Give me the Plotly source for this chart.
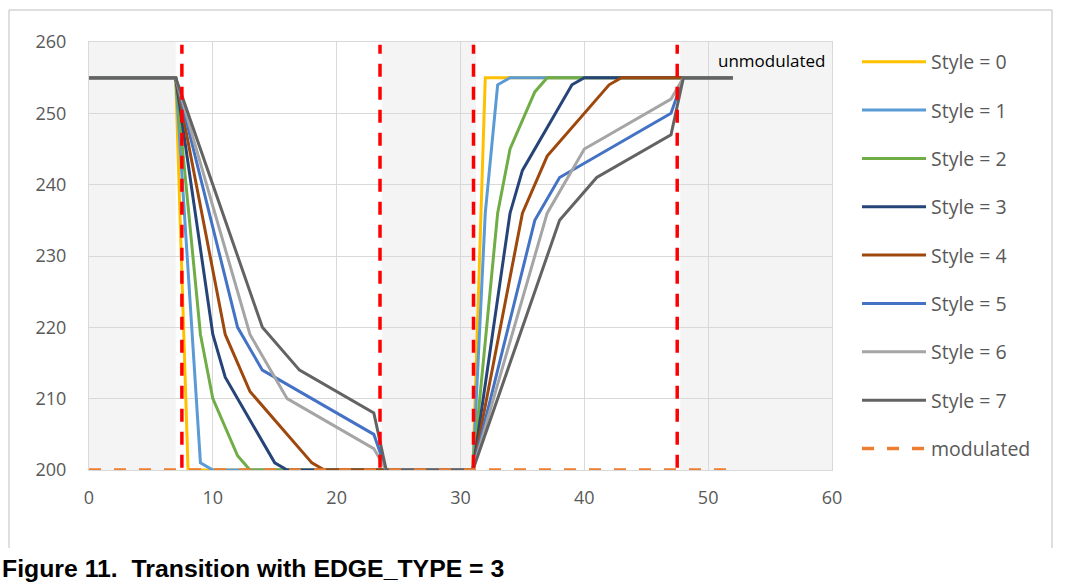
import plotly.graph_objects as go

# ---------------- data ----------------
style_names = ["Style = 0", "Style = 1", "Style = 2", "Style = 3",
               "Style = 4", "Style = 5", "Style = 6", "Style = 7"]
style_colors = ["#FFC000", "#5B9BD5", "#70AD47", "#264478",
                "#9E480E", "#4472C4", "#A5A5A5", "#636363"]

style0_x = [0, 7, 8, 31, 32, 52]
style0_y = [255, 255, 200, 200, 255, 255]
style1_x = [0, 7, 9, 10, 31, 32, 33, 34, 52]
style1_y = [255, 255, 201, 200, 200, 236, 254, 255, 255]
style2_x = [0, 7, 9, 10, 12, 13, 31, 33, 34, 36, 37, 52]
style2_y = [255, 255, 219, 210, 202, 200, 200, 236, 245, 253, 255, 255]
style3_x = [0, 7, 10, 11, 15, 16, 31, 34, 35, 39, 40, 52]
style3_y = [255, 255, 219, 213, 201, 200, 200, 236, 242, 254, 255, 255]
style4_x = [0, 7, 11, 13, 18, 19, 31, 35, 37, 42, 43, 52]
style4_y = [255, 255, 219, 211, 201, 200, 200, 236, 244, 254, 255, 255]
style5_x = [0, 7, 12, 14, 23, 24, 31, 36, 38, 47, 48, 52]
style5_y = [255, 255, 220, 214, 205, 200, 200, 235, 241, 250, 255, 255]
style6_x = [0, 7, 13, 16, 23, 24, 31, 37, 40, 47, 48, 52]
style6_y = [255, 255, 219, 210, 203, 200, 200, 236, 245, 252, 255, 255]
style7_x = [0, 7, 14, 17, 23, 24, 31, 38, 41, 47, 48, 52]
style7_y = [255, 255, 220, 214, 208, 200, 200, 235, 241, 247, 255, 255]

modulated_x = [0, 52]
modulated_y = [200, 200]

# red dashed markers (x positions)
marker_x = [7.5, 23.5, 31.05, 47.5]
# gray shaded x-bands (start, end)
band_start = [0, 23.65, 47.75]
band_end = [7.0, 31.25, 60]

x_ticks = [0, 10, 20, 30, 40, 50, 60]
y_ticks = [200, 210, 220, 230, 240, 250, 260]

unmod_label = "unmodulated"
caption = "<b>Figure 11.  Transition with EDGE_TYPE = 3</b>"

style_x = [style0_x, style1_x, style2_x, style3_x, style4_x, style5_x, style6_x, style7_x]
style_y = [style0_y, style1_y, style2_y, style3_y, style4_y, style5_y, style6_y, style7_y]

# ---------------- geometry ----------------
W, H = 1066, 582
L, R, T, B = 89, 832, 42, 470          # plot area in page pixels


def px_x(p):
    return (p - L) / (R - L)


def px_y(p):
    return (B - p) / (B - T)


# ---------------- figure ----------------
fig = go.Figure()

for i, name in enumerate(style_names):
    fig.add_trace(go.Scatter(
        x=style_x[i], y=style_y[i], mode="lines", name=name,
        line=dict(color=style_colors[i], width=3),
        legendgroup=name,
    ))

fig.add_trace(go.Scatter(
    x=modulated_x, y=modulated_y, mode="lines", name="modulated",
    line=dict(color="#ED7D31", width=3.5, dash="12px,13px"),
    legendgroup="modulated",
))

shapes = []
for s, e in zip(band_start, band_end):
    shapes.append(dict(type="rect", xref="x", yref="y", x0=s, x1=e, y0=200, y1=260,
                       fillcolor="#F4F4F4", line=dict(width=0), layer="below"))
for mx in marker_x:
    shapes.append(dict(type="line", xref="x", yref="y", x0=mx, x1=mx, y0=200.3, y1=259.6,
                       line=dict(color="#FF0000", width=3.5, dash="13px,10px"), layer="above"))

border = dict(color="#BFBFBF", width=1)
shapes.append(dict(type="line", xref="paper", yref="paper", x0=px_x(9), x1=px_x(1052),
                   y0=px_y(10), y1=px_y(10), line=border))
shapes.append(dict(type="line", xref="paper", yref="paper", x0=px_x(9), x1=px_x(9),
                   y0=px_y(10), y1=px_y(548), line=border))
shapes.append(dict(type="line", xref="paper", yref="paper", x0=px_x(1052), x1=px_x(1052),
                   y0=px_y(10), y1=px_y(548), line=border))

annotations = [
    dict(x=55.1, y=257.4, xref="x", yref="y", text=unmod_label, showarrow=False,
         font=dict(family="Open Sans", size=17, color="#000000")),
    dict(x=px_x(-0.5), y=px_y(568.5), xref="paper", yref="paper", text=caption,
         showarrow=False, xanchor="left", yanchor="middle",
         font=dict(family="Liberation Sans", size=24.8, color="#000000")),
]

fig.update_layout(
    width=W, height=H,
    margin=dict(l=L, r=W - R, t=T, b=H - B),
    paper_bgcolor="white", plot_bgcolor="white",
    font=dict(family="Open Sans", size=18, color="#595959"),
    shapes=shapes, annotations=annotations,
    showlegend=True,
    legend=dict(xref="container", yref="container", x=857 / W, y=1 - 42.5 / H,
                xanchor="left", yanchor="top", itemwidth=64, tracegroupgap=20,
                font=dict(family="Open Sans", size=19.5, color="#595959"),
                bgcolor="rgba(0,0,0,0)"),
)
try:
    fig.update_layout(legend_maxheight=540)
except Exception:
    pass

fig.update_xaxes(range=[0, 60], tickvals=x_ticks, showgrid=True, gridcolor="#D9D9D9",
                 gridwidth=1, zeroline=False, showline=True, linecolor="#D9D9D9",
                 mirror=True, ticks="", ticklabelstandoff=11, fixedrange=True)
fig.update_yaxes(range=[200, 260], tickvals=y_ticks, showgrid=True, gridcolor="#D9D9D9",
                 gridwidth=1, zeroline=False, showline=True, linecolor="#D9D9D9",
                 mirror=True, ticks="", ticklabelstandoff=18, fixedrange=True)

fig.write_html("out.html", config={"displayModeBar": False},
               post_script="document.body.style.margin='0px';")
